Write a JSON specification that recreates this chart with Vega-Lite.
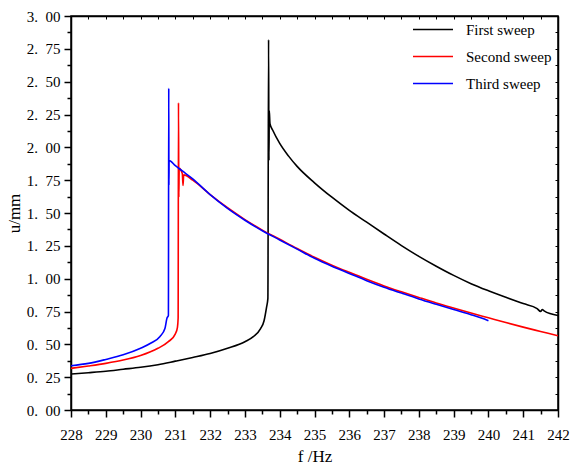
{
  "$schema": "https://vega.github.io/schema/vega-lite/v6.json",
  "autosize": "none",
  "width": 487,
  "height": 394,
  "padding": {"left": 71, "top": 16, "right": 24, "bottom": 56},
  "background": "white",
  "config": {
    "view": {"stroke": "black", "strokeWidth": 1.5},
    "font": "Liberation Serif",
    "axis": {"labelFont": "Liberation Serif", "titleFont": "Liberation Serif"},
    "legend": {"labelFont": "Liberation Serif"}
  },
  "data": {"values": [
    {"s":"First sweep","f":228.0,"u":0.274},
    {"s":"First sweep","f":228.5,"u":0.284},
    {"s":"First sweep","f":229.0,"u":0.295},
    {"s":"First sweep","f":229.5,"u":0.31},
    {"s":"First sweep","f":230.0,"u":0.325},
    {"s":"First sweep","f":230.5,"u":0.345},
    {"s":"First sweep","f":231.0,"u":0.372},
    {"s":"First sweep","f":231.5,"u":0.40},
    {"s":"First sweep","f":232.0,"u":0.43},
    {"s":"First sweep","f":232.5,"u":0.47},
    {"s":"First sweep","f":233.0,"u":0.52},
    {"s":"First sweep","f":233.25,"u":0.56},
    {"s":"First sweep","f":233.45,"u":0.62},
    {"s":"First sweep","f":233.55,"u":0.68},
    {"s":"First sweep","f":233.62,"u":0.78},
    {"s":"First sweep","f":233.66,"u":0.85},
    {"s":"First sweep","f":233.68,"u":2.82},
    {"s":"First sweep","f":233.69,"u":1.90},
    {"s":"First sweep","f":233.70,"u":2.28},
    {"s":"First sweep","f":233.72,"u":2.18},
    {"s":"First sweep","f":233.8,"u":2.13},
    {"s":"First sweep","f":234.0,"u":2.03},
    {"s":"First sweep","f":234.25,"u":1.935},
    {"s":"First sweep","f":234.5,"u":1.855},
    {"s":"First sweep","f":235.0,"u":1.73},
    {"s":"First sweep","f":235.5,"u":1.62},
    {"s":"First sweep","f":236.0,"u":1.52},
    {"s":"First sweep","f":236.5,"u":1.43},
    {"s":"First sweep","f":237.0,"u":1.34},
    {"s":"First sweep","f":237.5,"u":1.252},
    {"s":"First sweep","f":238.0,"u":1.17},
    {"s":"First sweep","f":238.5,"u":1.095},
    {"s":"First sweep","f":239.0,"u":1.025},
    {"s":"First sweep","f":239.5,"u":0.962},
    {"s":"First sweep","f":240.0,"u":0.908},
    {"s":"First sweep","f":240.5,"u":0.858},
    {"s":"First sweep","f":241.0,"u":0.81},
    {"s":"First sweep","f":241.4,"u":0.772},
    {"s":"First sweep","f":241.5,"u":0.75},
    {"s":"First sweep","f":241.55,"u":0.765},
    {"s":"First sweep","f":241.6,"u":0.755},
    {"s":"First sweep","f":242.0,"u":0.72},
    {"s":"Second sweep","f":228.0,"u":0.317},
    {"s":"Second sweep","f":228.5,"u":0.335},
    {"s":"Second sweep","f":229.0,"u":0.355},
    {"s":"Second sweep","f":229.5,"u":0.38},
    {"s":"Second sweep","f":230.0,"u":0.415},
    {"s":"Second sweep","f":230.5,"u":0.47},
    {"s":"Second sweep","f":230.8,"u":0.52},
    {"s":"Second sweep","f":231.0,"u":0.58},
    {"s":"Second sweep","f":231.06,"u":0.63},
    {"s":"Second sweep","f":231.08,"u":0.70},
    {"s":"Second sweep","f":231.09,"u":2.34},
    {"s":"Second sweep","f":231.10,"u":1.62},
    {"s":"Second sweep","f":231.11,"u":1.84},
    {"s":"Second sweep","f":231.2,"u":1.80},
    {"s":"Second sweep","f":231.22,"u":1.71},
    {"s":"Second sweep","f":231.24,"u":1.79},
    {"s":"Second sweep","f":231.5,"u":1.75},
    {"s":"Second sweep","f":232.0,"u":1.64},
    {"s":"Second sweep","f":232.5,"u":1.54},
    {"s":"Second sweep","f":233.0,"u":1.45},
    {"s":"Second sweep","f":233.5,"u":1.37},
    {"s":"Second sweep","f":234.0,"u":1.30},
    {"s":"Second sweep","f":234.5,"u":1.23},
    {"s":"Second sweep","f":235.0,"u":1.163},
    {"s":"Second sweep","f":235.5,"u":1.103},
    {"s":"Second sweep","f":236.0,"u":1.048},
    {"s":"Second sweep","f":236.5,"u":0.995},
    {"s":"Second sweep","f":237.0,"u":0.945},
    {"s":"Second sweep","f":237.5,"u":0.90},
    {"s":"Second sweep","f":238.0,"u":0.857},
    {"s":"Second sweep","f":238.5,"u":0.815},
    {"s":"Second sweep","f":239.0,"u":0.776},
    {"s":"Second sweep","f":239.5,"u":0.738},
    {"s":"Second sweep","f":240.0,"u":0.702},
    {"s":"Second sweep","f":240.5,"u":0.666},
    {"s":"Second sweep","f":241.0,"u":0.631},
    {"s":"Second sweep","f":241.5,"u":0.598},
    {"s":"Second sweep","f":242.0,"u":0.565},
    {"s":"Third sweep","f":228.0,"u":0.337},
    {"s":"Third sweep","f":228.5,"u":0.355},
    {"s":"Third sweep","f":229.0,"u":0.385},
    {"s":"Third sweep","f":229.5,"u":0.42},
    {"s":"Third sweep","f":230.0,"u":0.47},
    {"s":"Third sweep","f":230.3,"u":0.51},
    {"s":"Third sweep","f":230.56,"u":0.56},
    {"s":"Third sweep","f":230.7,"u":0.62},
    {"s":"Third sweep","f":230.76,"u":0.70},
    {"s":"Third sweep","f":230.80,"u":0.72},
    {"s":"Third sweep","f":230.81,"u":2.45},
    {"s":"Third sweep","f":230.815,"u":1.71},
    {"s":"Third sweep","f":230.82,"u":1.90},
    {"s":"Third sweep","f":231.0,"u":1.86},
    {"s":"Third sweep","f":231.2,"u":1.82},
    {"s":"Third sweep","f":231.5,"u":1.76},
    {"s":"Third sweep","f":232.0,"u":1.64},
    {"s":"Third sweep","f":232.5,"u":1.535},
    {"s":"Third sweep","f":233.0,"u":1.445},
    {"s":"Third sweep","f":233.5,"u":1.365},
    {"s":"Third sweep","f":234.0,"u":1.295},
    {"s":"Third sweep","f":234.5,"u":1.225},
    {"s":"Third sweep","f":235.0,"u":1.155},
    {"s":"Third sweep","f":235.5,"u":1.095},
    {"s":"Third sweep","f":236.0,"u":1.04},
    {"s":"Third sweep","f":236.5,"u":0.985},
    {"s":"Third sweep","f":237.0,"u":0.935},
    {"s":"Third sweep","f":237.5,"u":0.89},
    {"s":"Third sweep","f":238.0,"u":0.846},
    {"s":"Third sweep","f":238.5,"u":0.805},
    {"s":"Third sweep","f":239.0,"u":0.765},
    {"s":"Third sweep","f":239.5,"u":0.726},
    {"s":"Third sweep","f":239.8,"u":0.70},
    {"s":"Third sweep","f":240.0,"u":0.68}
  ]},
  "resolve": {"axis": {"x": "independent", "y": "independent"}},
  "layer": [
    {
      "mark": {"type": "line", "strokeWidth": 1.6, "clip": true, "interpolate": "monotone"},
      "encoding": {
        "x": {"field": "f", "type": "quantitative",
          "scale": {"domain": [228, 242], "nice": false, "zero": false},
          "axis": {
            "orient": "bottom", "grid": false, "title": "f /Hz",
            "values": [228,228.5,229,229.5,230,230.5,231,231.5,232,232.5,233,233.5,234,234.5,235,235.5,236,236.5,237,237.5,238,238.5,239,239.5,240,240.5,241,241.5,242],
            "labelExpr": "datum.value % 1 === 0 ? format(datum.value, 'd') : ''",
            "tickSize": {"condition": {"test": "datum.value % 1 === 0", "value": 7}, "value": 4},
            "tickColor": "black", "tickWidth": 1.5,
            "domainColor": "black", "domainWidth": 1.5,
            "labelFont": "Liberation Serif", "labelFontSize": 15, "labelColor": "black",
            "labelPadding": 10, "labelFlush": false, "labelOverlap": false,
            "titleFont": "Liberation Serif", "titleFontSize": 17, "titleFontWeight": "normal", "titleColor": "black",
            "titlePadding": 6
          }},
        "y": {"field": "u", "type": "quantitative",
          "scale": {"domain": [0, 3], "nice": false},
          "axis": {
            "orient": "left", "grid": false, "title": "u/mm",
            "values": [0,0.125,0.25,0.375,0.5,0.625,0.75,0.875,1,1.125,1.25,1.375,1.5,1.625,1.75,1.875,2,2.125,2.25,2.375,2.5,2.625,2.75,2.875,3],
            "labelExpr": "(datum.value * 4) % 1 === 0 ? format(floor(datum.value), 'd') + '.\u2002' + format(round((datum.value - floor(datum.value)) * 100), '02d') : ''",
            "tickSize": {"condition": {"test": "(datum.value * 4) % 1 === 0", "value": 7}, "value": 4},
            "tickColor": "black", "tickWidth": 1.5,
            "domainColor": "black", "domainWidth": 1.5,
            "labelFont": "Liberation Serif", "labelFontSize": 15, "labelColor": "black",
            "labelPadding": 4, "labelFlush": false, "labelOverlap": false,
            "titleFont": "Liberation Serif", "titleFontSize": 17, "titleFontWeight": "normal", "titleColor": "black",
            "titlePadding": 3
          }},
        "color": {"field": "s", "type": "nominal",
          "scale": {"domain": ["First sweep", "Second sweep", "Third sweep"], "range": ["#000000", "#ff0000", "#0000ff"]},
          "legend": {
            "title": null, "orient": "none", "legendX": 341, "legendY": 0,
            "symbolType": "stroke", "symbolSize": 1600, "symbolStrokeWidth": 1.6,
            "clipHeight": 27, "rowPadding": 0,
            "labelFont": "Liberation Serif", "labelFontSize": 15, "labelColor": "black",
            "labelOffset": 12
          }},
        "order": {"value": null}
      }
    },
    {
      "mark": {"type": "line", "opacity": 0},
      "encoding": {
        "x": {"field": "f", "type": "quantitative",
          "axis": {
            "orient": "top", "grid": false, "title": null, "labels": false,
            "values": [228,228.5,229,229.5,230,230.5,231,231.5,232,232.5,233,233.5,234,234.5,235,235.5,236,236.5,237,237.5,238,238.5,239,239.5,240,240.5,241,241.5,242],
            "tickSize": -3, "tickColor": "black", "tickWidth": 1,
            "domainColor": "black", "domainWidth": 1.5
          }},
        "y": {"field": "u", "type": "quantitative",
          "axis": {
            "orient": "right", "grid": false, "title": null, "labels": false,
            "values": [0,0.125,0.25,0.375,0.5,0.625,0.75,0.875,1,1.125,1.25,1.375,1.5,1.625,1.75,1.875,2,2.125,2.25,2.375,2.5,2.625,2.75,2.875,3],
            "tickSize": -3, "tickColor": "black", "tickWidth": 1,
            "domainColor": "black", "domainWidth": 1.5
          }},
        "detail": {"field": "s"},
        "order": {"value": null}
      }
    }
  ]
}
